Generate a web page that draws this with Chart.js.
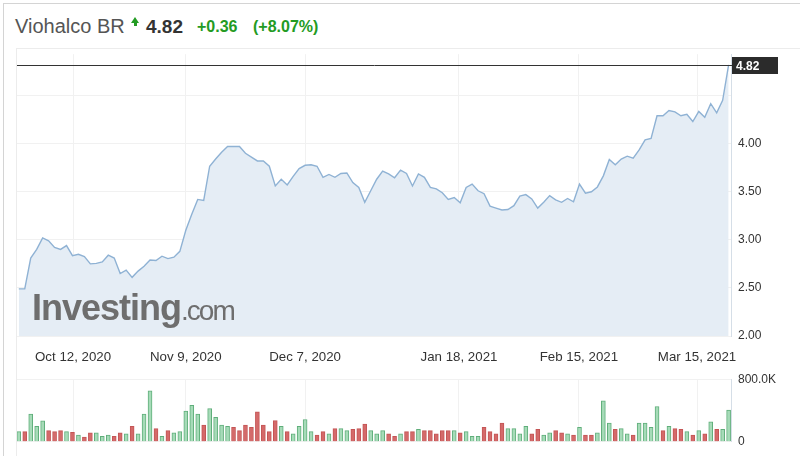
<!DOCTYPE html>
<html>
<head>
<meta charset="utf-8">
<script src="https://cdn.jsdelivr.net/npm/chart.js@4.4.0/dist/chart.umd.min.js"></script>
<style>
  html, body { margin: 0; padding: 0; background: #fff; }
  body { width: 800px; height: 456px; position: relative; overflow: hidden; font-family: "Liberation Sans", Arial, sans-serif; }
  #frame { position: absolute; left: 3px; top: 3px; right: 0; bottom: 0; border-left: 1px solid #d4d4d4; border-top: 1px solid #d4d4d4; }
  #panel { position: absolute; left: 16px; top: 48px; right: 0; bottom: 0; border-left: 1px solid #ececec; border-top: 1px solid #ececec; }
  .hdr { position: absolute; white-space: nowrap; }
  #name { left: 15px; top: 16px; font-size: 20px; line-height: 20px; color: #555; }
  #arrowHead { position: absolute; left: 131px; top: 17px; width: 0; height: 0; border-left: 4.5px solid transparent; border-right: 4.5px solid transparent; border-bottom: 6px solid #239b23; }
  #arrowStem { position: absolute; left: 134px; top: 23px; width: 3px; height: 3px; background: #239b23; }
  #last { left: 146px; top: 17px; font-size: 19px; line-height: 19px; font-weight: bold; color: #333; }
  #chg { left: 197px; top: 19px; font-size: 16px; line-height: 16px; font-weight: bold; color: #239b23; }
  #pct { left: 253px; top: 19px; font-size: 16px; line-height: 16px; font-weight: bold; color: #239b23; }
  canvas { position: absolute; left: 0; }
  #priceCanvas { top: 40px; }
  #volCanvas { top: 365px; }
  #wm { position: absolute; left: 32px; top: 287px; white-space: nowrap; color: #6e6e6e; z-index: 5; }
  #wm .big { font-size: 36px; font-weight: bold; letter-spacing: -1px; }
  #wm .small { font-size: 28px; letter-spacing: -2px; }
</style>
</head>
<body>
<div id="frame"></div>
<div id="panel"></div>
<div class="hdr" id="name">Viohalco BR</div>
<div id="arrowHead"></div><div id="arrowStem"></div>
<div class="hdr" id="last">4.82</div>
<div class="hdr" id="chg">+0.36</div>
<div class="hdr" id="pct">(+8.07%)</div>
<canvas id="priceCanvas" width="800" height="330"></canvas>
<canvas id="volCanvas" width="800" height="91"></canvas>
<div id="wm"><span class="big">Investing</span><span class="small">.com</span></div>
<script>
// daily closing prices (EUR), one per trading day
const closes = [
  2.49, 2.49, 2.81, 2.90, 3.02, 2.99, 2.92, 2.90, 2.94, 2.835, 2.85, 2.825, 2.75, 2.755, 2.77, 2.84, 2.81, 2.65, 2.685, 2.61,
  2.675, 2.725, 2.79, 2.785, 2.83, 2.805, 2.82, 2.88, 3.10, 3.265, 3.42, 3.41, 3.765, 3.84, 3.91, 3.97, 3.97, 3.97, 3.90, 3.86,
  3.82, 3.82, 3.765, 3.56, 3.63, 3.57, 3.66, 3.74, 3.775, 3.78, 3.765, 3.65, 3.68, 3.65, 3.69, 3.695, 3.595, 3.545, 3.39, 3.51,
  3.63, 3.715, 3.685, 3.645, 3.725, 3.69, 3.56, 3.685, 3.65, 3.545, 3.53, 3.49, 3.42, 3.44, 3.385, 3.545, 3.58, 3.51, 3.48, 3.35,
  3.33, 3.31, 3.315, 3.355, 3.455, 3.47, 3.425, 3.33, 3.39, 3.46, 3.415, 3.39, 3.43, 3.395, 3.58, 3.485, 3.50, 3.55, 3.665, 3.835,
  3.78, 3.84, 3.87, 3.85, 3.935, 4.04, 4.055, 4.29, 4.29, 4.345, 4.33, 4.29, 4.305, 4.23, 4.335, 4.275, 4.415, 4.32, 4.45, 4.82
];

// daily volume in thousands of shares
const volumes = [
  131, 131, 353, 199, 267, 143, 131, 143, 131, 120, 86, 60, 116, 116, 71, 86, 71, 116, 101, 199,
  101, 353, 650, 169, 71, 143, 116, 131, 394, 466, 353, 214, 424, 312, 214, 199, 184, 143, 214, 184,
  383, 214, 131, 270, 199, 131, 101, 199, 285, 131, 86, 131, 101, 169, 169, 143, 158, 169, 225, 143,
  101, 143, 101, 71, 101, 131, 131, 158, 143, 143, 101, 143, 143, 143, 116, 131, 71, 71, 184, 131,
  101, 240, 169, 169, 101, 199, 101, 158, 86, 116, 143, 116, 101, 86, 184, 86, 86, 116, 522, 240,
  158, 169, 101, 86, 240, 240, 184, 451, 143, 199, 169, 158, 131, 86, 143, 101, 255, 158, 158, 406
];

// 1 = up day, -1 = down day
const volDir = [
  1, -1, 1, 1, 1, -1, -1, -1, 1, -1, 1, -1, -1, 1, 1, 1, -1, -1, 1, -1,
  1, 1, 1, -1, 1, -1, 1, 1, 1, 1, 1, -1, 1, 1, 1, 1, -1, -1, -1, -1,
  -1, -1, -1, -1, 1, -1, 1, 1, 1, 1, -1, -1, 1, -1, 1, 1, -1, -1, -1, 1,
  1, 1, -1, -1, 1, -1, -1, 1, -1, -1, -1, -1, -1, 1, -1, 1, 1, 1, -1, -1,
  -1, -1, 1, 1, 1, 1, -1, -1, 1, 1, -1, -1, 1, -1, 1, -1, -1, 1, 1, 1,
  -1, 1, 1, -1, 1, 1, 1, 1, -1, 1, -1, -1, 1, -1, 1, -1, 1, -1, 1, 1
];

// date ticks (position in trading-day index) and their labels
const tickIndex = [9.1, 28, 48, 73.8, 93.9, 113.7];
const tickLabels = ['Oct 12, 2020', 'Nov 9, 2020', 'Dec 7, 2020', 'Jan 18, 2021', 'Feb 15, 2021', 'Mar 15, 2021'];

const priceTicks = [2.0, 2.5, 3.0, 3.5, 4.0, 4.5];
const volTicks = [0, 800000];

const xMin = -0.3, xMax = 119.4;
const gridColor = '#f1f1f1';
const fontFamily = '"Liberation Sans", Arial, sans-serif';

// horizontal line + dark box with the last price
const lastPricePlugin = {
  id: 'lastPrice',
  afterDraw(chart) {
    const { ctx, chartArea: a, scales: { y } } = chart;
    const last = closes[closes.length - 1];
    const py = Math.round(y.getPixelForValue(last)) + 0.5;
    ctx.save();
    ctx.strokeStyle = '#333';
    ctx.lineWidth = 1;
    ctx.beginPath();
    ctx.moveTo(a.left, py);
    ctx.lineTo(a.right + 1, py);
    ctx.stroke();
    ctx.fillStyle = '#2b2b2b';
    ctx.fillRect(a.right + 1, py - 8.5, 46, 17);
    ctx.fillStyle = '#fff';
    ctx.font = 'bold 12px ' + fontFamily;
    ctx.textBaseline = 'middle';
    ctx.fillText(last.toFixed(2), a.right + 5, py + 1);
    ctx.restore();
  }
};

const priceChart = new Chart(document.getElementById('priceCanvas'), {
  type: 'line',
  data: {
    datasets: [{
      data: closes.map((v, i) => ({ x: i, y: v })),
      borderColor: '#8fb2d4',
      backgroundColor: '#e5edf5',
      fill: 'start',
      borderWidth: 1.4,
      pointRadius: 0,
      tension: 0
    }]
  },
  options: {
    responsive: false,
    animation: false,
    layout: { padding: { left: 17, top: 8, right: 0, bottom: 0 } },
    plugins: { legend: { display: false }, tooltip: { enabled: false } },
    scales: {
      x: {
        type: 'linear',
        min: xMin,
        max: xMax,
        offset: false,
        afterBuildTicks: s => { s.ticks = tickIndex.map(v => ({ value: v })); },
        afterFit: s => { s.height = 34; },
        ticks: {
          autoSkip: false,
          maxRotation: 0,
          padding: 13,
          color: '#333',
          font: { family: fontFamily, size: 13.3 },
          callback: (v, i) => tickLabels[i]
        },
        grid: { color: gridColor, drawTicks: false, offset: false },
        border: { display: false }
      },
      y: {
        position: 'right',
        min: 2,
        max: 4.93,
        afterBuildTicks: s => { s.ticks = priceTicks.map(v => ({ value: v })); },
        afterFit: s => { s.width = 69; },
        ticks: {
          padding: 7,
          color: '#333',
          font: { family: fontFamily, size: 12 },
          callback: v => (v === 4.5 ? '' : v.toFixed(2))
        },
        grid: { color: gridColor, drawTicks: false },
        border: { color: '#d5dee7' }
      }
    }
  },
  plugins: [lastPricePlugin]
});

const volChart = new Chart(document.getElementById('volCanvas'), {
  type: 'bar',
  data: {
    datasets: [{
      data: volumes.map((v, i) => ({ x: i, y: v * 1000 })),
      backgroundColor: volDir.map(d => (d > 0 ? '#a6dbb8' : '#d46a6a')),
      borderColor: volDir.map(d => (d > 0 ? '#5fae7a' : '#c45555')),
      borderWidth: 1,
      barThickness: 4
    }]
  },
  options: {
    responsive: false,
    animation: false,
    layout: { padding: { left: 17, top: 7, right: 0, bottom: 12 } },
    plugins: { legend: { display: false }, tooltip: { enabled: false } },
    scales: {
      x: {
        type: 'linear',
        min: xMin,
        max: xMax,
        offset: false,
        afterBuildTicks: s => { s.ticks = tickIndex.map(v => ({ value: v })); },
        afterFit: s => { s.height = 0; },
        ticks: { display: false },
        grid: { color: gridColor, drawTicks: false, offset: false },
        border: { display: false }
      },
      y: {
        position: 'right',
        min: 0,
        max: 800000,
        afterBuildTicks: s => { s.ticks = volTicks.map(v => ({ value: v })); },
        afterFit: s => { s.width = 69; },
        ticks: {
          padding: 7,
          color: '#333',
          font: { family: fontFamily, size: 12 },
          callback: v => (v === 0 ? '0' : (v / 1000).toFixed(1) + 'K')
        },
        grid: { color: gridColor, drawTicks: false },
        border: { color: '#d5dee7' }
      }
    }
  }
});
</script>
</body>
</html>
